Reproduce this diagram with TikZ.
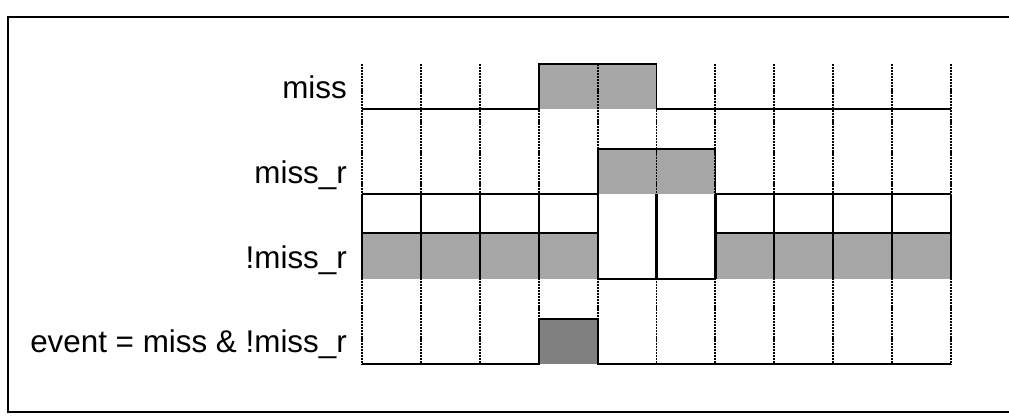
\documentclass[tikz,border=0pt]{standalone}
\usepackage{fontspec}
\setmainfont{Liberation Sans}
\definecolor{pulsegray}{HTML}{A6A6A6}
\definecolor{eventgray}{HTML}{808080}
\begin{document}
\begin{tikzpicture}[x=1bp, y=-1bp,
    sig/.style={line width=1.8bp},
    tick/.style={line width=1.9bp, dash pattern=on 2.2bp off 0.9bp},
    cell/.style={line width=2.2bp},
    lbl/.style={anchor=base east, inner sep=0pt, font=\fontsize{31.5}{36}\selectfont}]
    \useasboundingbox (0,0) rectangle (1009,416);
    % outer frame (right edge runs off the page)
    \draw[line width=2bp] (1009,17) -- (8,17) -- (8,412) -- (1009,412);

    % signal names
    \node[lbl] (miss)   at (347,98.3)  {miss};
    \node[lbl] (missr)  at (347,183.3) {miss\_r};
    \node[lbl] (nmissr) at (347,268.3) {!miss\_r};
    \node[lbl] (event)  at (347,352.7) {event = miss \& !miss\_r};

    % shaded levels
    \fill[pulsegray] (538.7,64) rectangle (656.5,109.3);
    \fill[pulsegray] (597.6,148.7) rectangle (715.4,194.3);
    \fill[pulsegray] (362,233.3) rectangle (597.6,279.3);
    \fill[pulsegray] (715.4,233.3) rectangle (951,279.3);
    \fill[eventgray] (538.7,319.3) rectangle (597.6,364.3);

    % clock grid
    \foreach \i [evaluate=\i as \x using 362+58.9*\i] in {0,...,10}
        \draw[tick] (\x,63.5) -- (\x,364.3);

    % miss
    \draw[sig] (362,109.3) -- (538.7,109.3) -- (538.7,64) -- (656.5,64) -- (656.5,109.3) -- (951,109.3);
    % miss_r
    \draw[sig] (362,194.3) -- (597.6,194.3) -- (597.6,148.7) -- (715.4,148.7) -- (715.4,194.3) -- (951,194.3);
    % !miss_r
    \draw[sig] (362,233.3) -- (597.6,233.3);
    \draw[sig] (715.4,233.3) -- (951,233.3);
    \draw[sig] (597.6,279.3) -- (715.4,279.3);
    \foreach \i [evaluate=\i as \x using 362+58.9*\i] in {0,...,10}
        \draw[cell] (\x,194.3) -- (\x,279.3);
    % event
    \draw[sig] (362,364.3) -- (538.7,364.3) -- (538.7,319.3) -- (597.6,319.3) -- (597.6,364.3) -- (951,364.3);
\end{tikzpicture}
\end{document}
